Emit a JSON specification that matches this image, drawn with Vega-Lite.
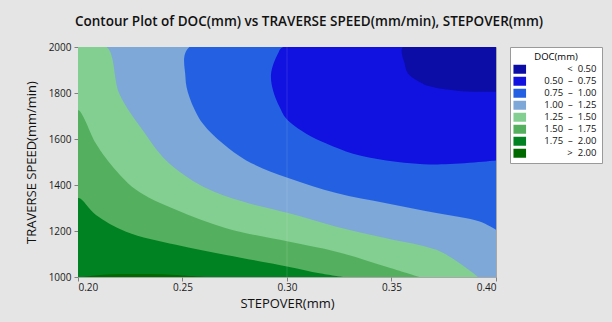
{
  "$schema": "https://vega.github.io/schema/vega-lite/v6.json",
  "width": 418,
  "height": 230,
  "autosize": {"type": "none"},
  "padding": {"left": 78, "top": 47, "right": 116, "bottom": 45},
  "background": "#E5E5E5",
  "title": {
    "text": "Contour Plot of DOC(mm) vs TRAVERSE SPEED(mm/min), STEPOVER(mm)",
    "anchor": "start",
    "frame": "group",
    "dx": -3,
    "offset": 14,
    "font": "Open Sans",
    "fontSize": 13.5,
    "fontWeight": 600,
    "color": "#111111"
  },
  "config": {
    "view": {"stroke": "#A8A8A8", "strokeWidth": 1},
    "axis": {
      "grid": false,
      "domain": false,
      "tickColor": "#808080",
      "tickSize": 4,
      "labelFont": "Open Sans",
      "labelFontSize": 10,
      "labelColor": "#1A1A1A",
      "titleFont": "Open Sans",
      "titleFontSize": 13,
      "titleFontWeight": "normal",
      "titleColor": "#111111"
    }
  },
  "data": {
    "values": [
      {"band": "1.00 – 1.25", "k": 0, "stepover": 0.2, "speed": 1000},
      {"band": "1.00 – 1.25", "k": 1, "stepover": 0.2, "speed": 2000},
      {"band": "1.00 – 1.25", "k": 2, "stepover": 0.4, "speed": 2000},
      {"band": "1.00 – 1.25", "k": 3, "stepover": 0.4, "speed": 1000},

      {"band": "1.25 – 1.50", "k": 0, "stepover": 0.2, "speed": 1000},
      {"band": "1.25 – 1.50", "k": 1, "stepover": 0.2, "speed": 2000},
      {"band": "1.25 – 1.50", "k": 2, "stepover": 0.2137, "speed": 2000},
      {"band": "1.25 – 1.50", "k": 3, "stepover": 0.2198, "speed": 1797},
      {"band": "1.25 – 1.50", "k": 4, "stepover": 0.231, "speed": 1638},
      {"band": "1.25 – 1.50", "k": 5, "stepover": 0.2422, "speed": 1507},
      {"band": "1.25 – 1.50", "k": 6, "stepover": 0.2597, "speed": 1394},
      {"band": "1.25 – 1.50", "k": 7, "stepover": 0.2789, "speed": 1328},
      {"band": "1.25 – 1.50", "k": 8, "stepover": 0.3006, "speed": 1278},
      {"band": "1.25 – 1.50", "k": 9, "stepover": 0.3236, "speed": 1219},
      {"band": "1.25 – 1.50", "k": 10, "stepover": 0.3475, "speed": 1169},
      {"band": "1.25 – 1.50", "k": 11, "stepover": 0.3715, "speed": 1118},
      {"band": "1.25 – 1.50", "k": 12, "stepover": 0.3826, "speed": 1060},
      {"band": "1.25 – 1.50", "k": 13, "stepover": 0.3915, "speed": 1000},

      {"band": "1.50 – 1.75", "k": 0, "stepover": 0.2, "speed": 1000},
      {"band": "1.50 – 1.75", "k": 1, "stepover": 0.2, "speed": 1725},
      {"band": "1.50 – 1.75", "k": 2, "stepover": 0.2086, "speed": 1580},
      {"band": "1.50 – 1.75", "k": 3, "stepover": 0.2142, "speed": 1507},
      {"band": "1.50 – 1.75", "k": 4, "stepover": 0.2278, "speed": 1379},
      {"band": "1.50 – 1.75", "k": 5, "stepover": 0.2469, "speed": 1292},
      {"band": "1.50 – 1.75", "k": 6, "stepover": 0.2709, "speed": 1212},
      {"band": "1.50 – 1.75", "k": 7, "stepover": 0.3006, "speed": 1154},
      {"band": "1.50 – 1.75", "k": 8, "stepover": 0.3236, "speed": 1110},
      {"band": "1.50 – 1.75", "k": 9, "stepover": 0.3475, "speed": 1045},
      {"band": "1.50 – 1.75", "k": 10, "stepover": 0.3635, "speed": 1000},

      {"band": "1.75 – 2.00", "k": 0, "stepover": 0.2, "speed": 1000},
      {"band": "1.75 – 2.00", "k": 1, "stepover": 0.2, "speed": 1343},
      {"band": "1.75 – 2.00", "k": 2, "stepover": 0.2086, "speed": 1270},
      {"band": "1.75 – 2.00", "k": 3, "stepover": 0.223, "speed": 1197},
      {"band": "1.75 – 2.00", "k": 4, "stepover": 0.2469, "speed": 1140},
      {"band": "1.75 – 2.00", "k": 5, "stepover": 0.2709, "speed": 1096},
      {"band": "1.75 – 2.00", "k": 6, "stepover": 0.3006, "speed": 1045},
      {"band": "1.75 – 2.00", "k": 7, "stepover": 0.3156, "speed": 1016},
      {"band": "1.75 – 2.00", "k": 8, "stepover": 0.3268, "speed": 1000},

      {"band": "> 2.00", "k": 0, "stepover": 0.2023, "speed": 1000},
      {"band": "> 2.00", "k": 1, "stepover": 0.2105, "speed": 1009},
      {"band": "> 2.00", "k": 2, "stepover": 0.223, "speed": 1013},
      {"band": "> 2.00", "k": 3, "stepover": 0.2345, "speed": 1013},
      {"band": "> 2.00", "k": 4, "stepover": 0.2469, "speed": 1009},
      {"band": "> 2.00", "k": 5, "stepover": 0.2613, "speed": 1000},

      {"band": "0.75 – 1.00", "k": 0, "stepover": 0.4, "speed": 2000},
      {"band": "0.75 – 1.00", "k": 1, "stepover": 0.2533, "speed": 2000},
      {"band": "0.75 – 1.00", "k": 2, "stepover": 0.2514, "speed": 1870},
      {"band": "0.75 – 1.00", "k": 3, "stepover": 0.2533, "speed": 1783},
      {"band": "0.75 – 1.00", "k": 4, "stepover": 0.2597, "speed": 1667},
      {"band": "0.75 – 1.00", "k": 5, "stepover": 0.2693, "speed": 1580},
      {"band": "0.75 – 1.00", "k": 6, "stepover": 0.2805, "speed": 1507},
      {"band": "0.75 – 1.00", "k": 7, "stepover": 0.3006, "speed": 1430},
      {"band": "0.75 – 1.00", "k": 8, "stepover": 0.3236, "speed": 1365},
      {"band": "0.75 – 1.00", "k": 9, "stepover": 0.3475, "speed": 1321},
      {"band": "0.75 – 1.00", "k": 10, "stepover": 0.3715, "speed": 1278},
      {"band": "0.75 – 1.00", "k": 11, "stepover": 0.3922, "speed": 1241},
      {"band": "0.75 – 1.00", "k": 12, "stepover": 0.4, "speed": 1205},

      {"band": "0.50 – 0.75", "k": 0, "stepover": 0.4, "speed": 2000},
      {"band": "0.50 – 0.75", "k": 1, "stepover": 0.2982, "speed": 2000},
      {"band": "0.50 – 0.75", "k": 2, "stepover": 0.2957, "speed": 1972},
      {"band": "0.50 – 0.75", "k": 3, "stepover": 0.2924, "speed": 1885},
      {"band": "0.50 – 0.75", "k": 4, "stepover": 0.2933, "speed": 1812},
      {"band": "0.50 – 0.75", "k": 5, "stepover": 0.2964, "speed": 1740},
      {"band": "0.50 – 0.75", "k": 6, "stepover": 0.2996, "speed": 1689},
      {"band": "0.50 – 0.75", "k": 7, "stepover": 0.3092, "speed": 1623},
      {"band": "0.50 – 0.75", "k": 8, "stepover": 0.3188, "speed": 1580},
      {"band": "0.50 – 0.75", "k": 9, "stepover": 0.3316, "speed": 1536},
      {"band": "0.50 – 0.75", "k": 10, "stepover": 0.3475, "speed": 1507},
      {"band": "0.50 – 0.75", "k": 11, "stepover": 0.3715, "speed": 1489},
      {"band": "0.50 – 0.75", "k": 12, "stepover": 0.4, "speed": 1506},

      {"band": "< 0.50", "k": 0, "stepover": 0.4, "speed": 2000},
      {"band": "< 0.50", "k": 1, "stepover": 0.3555, "speed": 2000},
      {"band": "< 0.50", "k": 2, "stepover": 0.3563, "speed": 1928},
      {"band": "< 0.50", "k": 3, "stepover": 0.3579, "speed": 1885},
      {"band": "< 0.50", "k": 4, "stepover": 0.3635, "speed": 1848},
      {"band": "< 0.50", "k": 5, "stepover": 0.3683, "speed": 1829},
      {"band": "< 0.50", "k": 6, "stepover": 0.3826, "speed": 1809},
      {"band": "< 0.50", "k": 7, "stepover": 0.4, "speed": 1805}
    ]
  },
  "encoding": {
    "x": {
      "field": "stepover",
      "type": "quantitative",
      "scale": {"domain": [0.2, 0.4], "nice": false, "zero": false},
      "axis": {"title": "STEPOVER(mm)", "values": [0.2, 0.25, 0.3, 0.35, 0.4], "format": ".2f", "labelPadding": 1, "titlePadding": 5}
    },
    "y": {
      "field": "speed",
      "type": "quantitative",
      "scale": {"domain": [1000, 2000], "nice": false, "zero": false},
      "axis": {"title": "TRAVERSE SPEED(mm/min)", "values": [1000, 1200, 1400, 1600, 1800, 2000], "format": "d", "labelPadding": 3, "titlePadding": 10}
    },
    "order": {"field": "k", "type": "quantitative"},
    "color": {
      "field": "band",
      "type": "nominal",
      "scale": {
        "domain": ["< 0.50", "0.50 – 0.75", "0.75 – 1.00", "1.00 – 1.25", "1.25 – 1.50", "1.50 – 1.75", "1.75 – 2.00", "> 2.00"],
        "range": ["#0C0CA6", "#1111E0", "#2461E2", "#7DA8D8", "#83CF91", "#54B05E", "#008222", "#006A00"]
      },
      "legend": {
        "orient": "none",
        "legendX": 432,
        "legendY": 0,
        "title": "DOC(mm)",
        "titleFont": "Open Sans",
        "titleFontSize": 9.5,
        "titleFontWeight": "normal",
        "titleAnchor": "middle",
        "titlePadding": 3,
        "labelFont": "Open Sans",
        "labelFontSize": 9.5,
        "labelColor": "#111111",
        "labelAlign": "right",
        "labelOffset": 72,
        "labelExpr": "replace(replace(replace(datum.label, ' – ', '\u00a0\u00a0–\u00a0\u00a0'), '< ', '<\u00a0\u00a0'), '> ', '>\u00a0\u00a0')",
        "symbolType": "M-1.4,-1H1.4V1H-1.4Z",
        "symbolSize": 81,
        "symbolStrokeWidth": 0,
        "symbolOpacity": 1,
        "rowPadding": 1,
        "padding": 5,
        "fillColor": "white",
        "strokeColor": "#9A9A9A"
      }
    }
  },
  "layer": [
    {"transform": [{"filter": "datum.band === '1.00 – 1.25'"}], "mark": {"type": "line", "filled": true, "strokeWidth": 0, "clip": true}},
    {"transform": [{"filter": "datum.band === '1.25 – 1.50'"}], "mark": {"type": "line", "filled": true, "strokeWidth": 0, "clip": true, "interpolate": "catmull-rom"}},
    {"transform": [{"filter": "datum.band === '1.50 – 1.75'"}], "mark": {"type": "line", "filled": true, "strokeWidth": 0, "clip": true, "interpolate": "catmull-rom"}},
    {"transform": [{"filter": "datum.band === '1.75 – 2.00'"}], "mark": {"type": "line", "filled": true, "strokeWidth": 0, "clip": true, "interpolate": "catmull-rom"}},
    {"transform": [{"filter": "datum.band === '> 2.00'"}], "mark": {"type": "line", "filled": true, "strokeWidth": 0, "clip": true, "interpolate": "catmull-rom"}},
    {"transform": [{"filter": "datum.band === '0.75 – 1.00'"}], "mark": {"type": "line", "filled": true, "strokeWidth": 0, "clip": true, "interpolate": "catmull-rom"}},
    {"transform": [{"filter": "datum.band === '0.50 – 0.75'"}], "mark": {"type": "line", "filled": true, "strokeWidth": 0, "clip": true, "interpolate": "catmull-rom"}},
    {"transform": [{"filter": "datum.band === '< 0.50'"}], "mark": {"type": "line", "filled": true, "strokeWidth": 0, "clip": true, "interpolate": "catmull-rom"}},
    {
      "transform": [{"filter": "datum.band === '1.00 – 1.25' && datum.k === 0"}],
      "mark": {"type": "rule", "strokeWidth": 1},
      "encoding": {
        "x": {"datum": 0.3},
        "y": {"datum": 1000},
        "y2": {"datum": 2000},
        "color": {"value": "#FFFFFF"},
        "strokeOpacity": {"value": 0.12}
      }
    }
  ]
}
